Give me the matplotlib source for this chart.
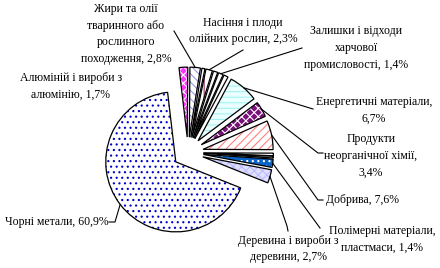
import matplotlib
matplotlib.use("Agg")
import matplotlib.pyplot as plt
import numpy as np
from matplotlib.patches import Wedge

# частки секторів (% кола) за годинниковою стрілкою від верху, оцінені з малюнка
shares = [2.0, 2.4, 0.7, 1.5, 1.0, 1.1, 1.0, 6.9, 3.6, 6.7, 0.6, 0.4, 1.9, 3.1, 67.0]

# підписи і номер сектора, до якого вони відносяться
labels = [
    "Алюміній і вироби з\nалюмінію, 1,7%",
    "Жири та олії\nтваринного або\nрослинного\nпоходження, 2,8%",
    "Насіння і плоди\nолійних рослин, 2,3%",
    "Залишки і відходи\nхарчової\nпромисловості, 1,4%",
    "Енергетичні матеріали,\n6,7%",
    "Продукти\nнеорганічної хімії,\n3,4%",
    "Добрива, 7,6%",
    "Полімерні матеріали,\nпластмаси, 1,4%",
    "Деревина і вироби з\nдеревини, 2,7%",
    "Чорні метали, 60,9%",
]
label_wedge = [0, 1, 3, 5, 7, 8, 9, 12, 13, 14]

# заливки
faces = ["#ff33ff", "white", "white", "white", "white", "white", "white", "#eaffff",
         "#7a107a", "white", "white", "white", "#0a64c8", "#e0e0ff", "white"]
hatches = ["xxxx", "\\\\\\\\", None, "||", None, None, None, "---",
           "xxxx", "////", None, None, "...", "xxxx", "..."]
hatch_colors = ["white", "#9999ee", "white", "#993366", "white", "white", "white", "#a8f0f0",
                "white", "#ff8080", "white", "white", "white", "#bbbbff", "#0000cc"]

# розміщення (пікселі картинки 440x268)
W, H = 440, 268
cx, cy, R = 188, 152.5, 70

# центр тексту, точки лінії-виноски (від тексту до сектора)
text_pos = [(71, 86), (126, 34), (243, 31), (356, 48), (374, 110), (371, 156),
            (362, 200), (382, 239), (288, 249), (57, 222)]
leader_pts = [
    [],
    [(174, 31)],
    [(243, 50)],
    [(302, 48)],
    [(313, 109)],
    [(323, 153), (318, 153)],
    [(323, 200), (318, 200)],
    [(320, 228)],
    [(288, 231), (287, 226)],
    [(109, 222), (115, 222)],
]


def px(x, y):
    return (x - cx) / R, (cy - y) / R


plt.rcParams["hatch.linewidth"] = 0.8
fig = plt.figure(figsize=(W / 100, H / 100), dpi=100)
ax = fig.add_axes([0, 0, 1, 1])

wedges, _ = ax.pie(shares, explode=[0.22] * len(shares), startangle=96.7,
                   counterclock=False, radius=1)
for w, fc, h, hc in zip(wedges, faces, hatches, hatch_colors):
    w.set_facecolor(fc)
    w.set_edgecolor(hc)
    w.set_linewidth(0)
    w.set_hatch(h)
    # контур окремо, щоб штрихування мало свій колір
    ax.add_patch(Wedge(w.center, w.r, w.theta1, w.theta2, fill=False,
                       ec="black", lw=0.9))

for txt, wi, tp, pts in zip(labels, label_wedge, text_pos, leader_pts):
    tx, ty = px(*tp)
    ax.text(tx, ty, txt, ha="center", va="center", fontsize=8.5,
            family=["Liberation Serif", "DejaVu Serif"], linespacing=1.55)
    if pts:
        w = wedges[wi]
        tm = np.deg2rad((w.theta1 + w.theta2) / 2)
        ax_, ay_ = w.center[0] + w.r * np.cos(tm), w.center[1] + w.r * np.sin(tm)
        xs = [px(*p)[0] for p in pts] + [ax_]
        ys = [px(*p)[1] for p in pts] + [ay_]
        ax.plot(xs, ys, color="black", lw=0.8)

ax.set_xlim(-cx / R, (W - cx) / R)
ax.set_ylim(-(H - cy) / R, cy / R)
ax.set_aspect("auto")
ax.axis("off")

fig.savefig("out.png", dpi=100)
